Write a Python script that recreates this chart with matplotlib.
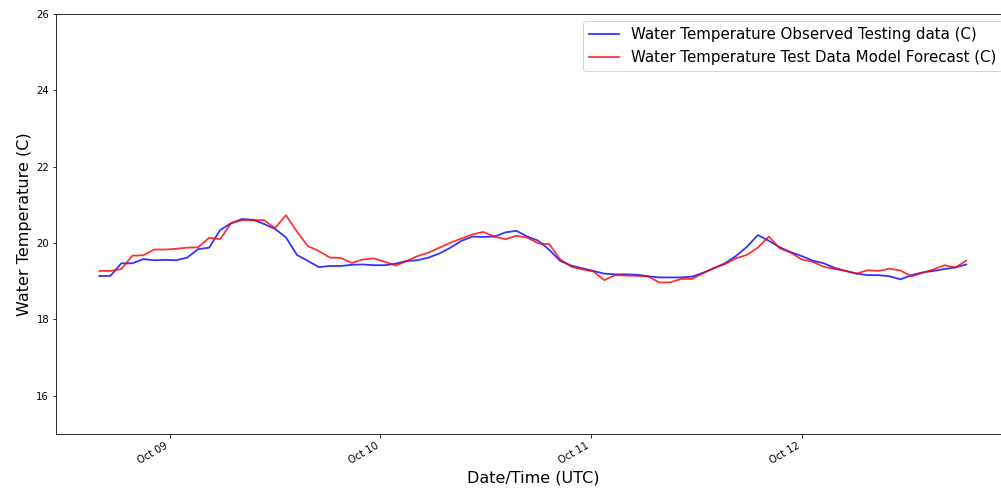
import numpy as np
import pandas as pd
import matplotlib
matplotlib.use("Agg")
import matplotlib.pyplot as plt
import matplotlib.dates as mdates

# 75-minute readings, Oct 08 16:00 -> Oct 12 18:45 (UTC)
times = pd.date_range("2021-10-08 16:00", periods=80, freq="75min")

observed = [
    19.14, 19.14, 19.47, 19.47, 19.58, 19.55, 19.56, 19.55, 19.62, 19.84,
    19.88, 20.34, 20.52, 20.63, 20.61, 20.50, 20.37, 20.15, 19.69, 19.53,
    19.37, 19.40, 19.40, 19.43, 19.44, 19.42, 19.42, 19.46, 19.53, 19.55,
    19.62, 19.73, 19.88, 20.06, 20.17, 20.16, 20.17, 20.28, 20.32, 20.17,
    20.06, 19.82, 19.53, 19.41, 19.34, 19.27, 19.20, 19.18, 19.18, 19.17,
    19.13, 19.10, 19.10, 19.10, 19.12, 19.22, 19.34, 19.47, 19.66, 19.90,
    20.21, 20.06, 19.89, 19.76, 19.66, 19.54, 19.47, 19.35, 19.27, 19.20,
    19.16, 19.16, 19.13, 19.05, 19.16, 19.23, 19.27, 19.32, 19.36, 19.44,
]

forecast = [
    19.27, 19.27, 19.32, 19.67, 19.68, 19.83, 19.83, 19.85, 19.88, 19.89,
    20.14, 20.10, 20.52, 20.60, 20.60, 20.60, 20.39, 20.73, 20.30, 19.92,
    19.79, 19.62, 19.61, 19.48, 19.57, 19.60, 19.51, 19.41, 19.53, 19.66,
    19.75, 19.88, 20.01, 20.12, 20.23, 20.29, 20.17, 20.10, 20.19, 20.14,
    19.99, 19.97, 19.57, 19.38, 19.31, 19.26, 19.03, 19.16, 19.15, 19.14,
    19.13, 18.97, 18.97, 19.06, 19.06, 19.21, 19.35, 19.45, 19.60, 19.69,
    19.88, 20.17, 19.86, 19.75, 19.57, 19.51, 19.38, 19.32, 19.27, 19.20,
    19.29, 19.27, 19.33, 19.28, 19.13, 19.22, 19.31, 19.42, 19.36, 19.54,
]

fig = plt.figure(figsize=(1001/72, 493/72), dpi=72)
ax = fig.add_axes([0.056, 0.1197, 0.9527, 0.852])

ax.plot(times, observed, color="b", alpha=0.8, lw=1.8,
        label="Water Temperature Observed Testing data (C)")
ax.plot(times, forecast, color="r", alpha=0.8, lw=1.8,
        label="Water Temperature Test Data Model Forecast (C)")

ax.set_ylim(15, 26)
ax.set_yticks([16, 18, 20, 22, 24, 26])
ax.xaxis.set_major_locator(mdates.DayLocator())
ax.xaxis.set_major_formatter(mdates.DateFormatter("%b %d"))
for lbl in ax.get_xticklabels():
    lbl.set_rotation(30)
    lbl.set_ha("right")

ax.set_xlabel("Date/Time (UTC)", fontsize=16)
ax.set_ylabel("Water Temperature (C)", fontsize=16)
ax.legend(loc="upper right", fontsize=15)

fig.savefig("out.png", dpi=72)
